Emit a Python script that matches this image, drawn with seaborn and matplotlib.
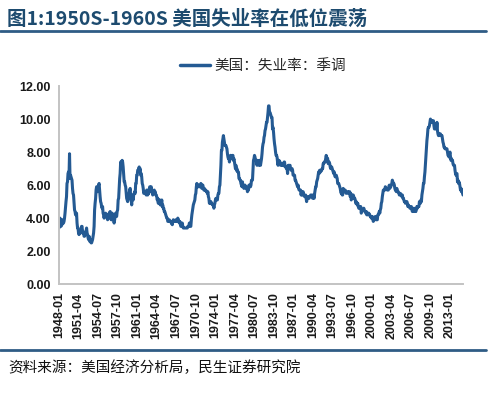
import numpy as np
import pandas as pd
import matplotlib
matplotlib.use("Agg")
import matplotlib.pyplot as plt
import seaborn as sns

# US unemployment rate, seasonally adjusted, monthly (%), one row per year 1948-2015
unrate_by_year = {
    1948: [3.4, 3.8, 4.0, 3.9, 3.5, 3.6, 3.6, 3.9, 3.8, 3.7, 3.8, 4.0],
    1949: [4.3, 4.7, 5.0, 5.3, 6.1, 6.2, 6.7, 6.8, 6.6, 7.9, 6.4, 6.6],
    1950: [6.5, 6.4, 6.3, 5.8, 5.5, 5.4, 5.0, 4.5, 4.4, 4.2, 4.2, 4.3],
    1951: [3.7, 3.4, 3.4, 3.1, 3.0, 3.2, 3.1, 3.1, 3.3, 3.5, 3.5, 3.1],
    1952: [3.2, 3.1, 2.9, 2.9, 3.0, 3.0, 3.2, 3.4, 3.1, 3.0, 2.8, 2.7],
    1953: [2.9, 2.6, 2.6, 2.7, 2.5, 2.5, 2.6, 2.7, 2.9, 3.1, 3.5, 4.5],
    1954: [4.9, 5.2, 5.7, 5.9, 5.9, 5.6, 5.8, 6.0, 6.1, 5.7, 5.3, 5.0],
    1955: [4.9, 4.7, 4.6, 4.7, 4.3, 4.2, 4.0, 4.2, 4.1, 4.3, 4.2, 4.2],
    1956: [4.0, 3.9, 4.2, 4.0, 4.3, 4.3, 4.4, 4.1, 3.9, 3.9, 4.3, 4.2],
    1957: [4.2, 3.9, 3.7, 3.9, 4.1, 4.3, 4.2, 4.1, 4.4, 4.5, 5.1, 5.2],
    1958: [5.8, 6.4, 6.7, 7.4, 7.4, 7.3, 7.5, 7.4, 7.1, 6.7, 6.2, 6.2],
    1959: [6.0, 5.9, 5.6, 5.2, 5.1, 5.0, 5.1, 5.2, 5.5, 5.7, 5.8, 5.3],
    1960: [5.2, 4.8, 5.4, 5.2, 5.1, 5.4, 5.5, 5.6, 5.5, 6.1, 6.1, 6.6],
    1961: [6.6, 6.9, 6.9, 7.0, 7.1, 6.9, 7.0, 6.6, 6.7, 6.5, 6.1, 6.0],
    1962: [5.8, 5.5, 5.6, 5.6, 5.5, 5.5, 5.4, 5.7, 5.6, 5.4, 5.7, 5.5],
    1963: [5.7, 5.9, 5.7, 5.7, 5.9, 5.6, 5.6, 5.4, 5.5, 5.5, 5.7, 5.5],
    1964: [5.6, 5.4, 5.4, 5.3, 5.1, 5.2, 4.9, 5.0, 5.1, 5.1, 4.8, 5.0],
    1965: [4.9, 5.1, 4.7, 4.8, 4.6, 4.6, 4.4, 4.4, 4.3, 4.2, 4.1, 4.0],
    1966: [4.0, 3.8, 3.8, 3.8, 3.9, 3.8, 3.8, 3.8, 3.7, 3.7, 3.6, 3.8],
    1967: [3.9, 3.8, 3.8, 3.8, 3.8, 3.9, 3.8, 3.8, 3.8, 4.0, 3.9, 3.8],
    1968: [3.7, 3.8, 3.7, 3.5, 3.5, 3.7, 3.7, 3.5, 3.4, 3.4, 3.4, 3.4],
    1969: [3.4, 3.4, 3.4, 3.4, 3.4, 3.5, 3.5, 3.5, 3.7, 3.7, 3.5, 3.5],
    1970: [3.9, 4.2, 4.4, 4.6, 4.8, 4.9, 5.0, 5.1, 5.4, 5.5, 5.9, 6.1],
    1971: [5.9, 5.9, 6.0, 5.9, 5.9, 5.9, 6.0, 6.1, 6.0, 5.8, 6.0, 6.0],
    1972: [5.8, 5.7, 5.8, 5.7, 5.7, 5.7, 5.6, 5.6, 5.5, 5.6, 5.3, 5.2],
    1973: [4.9, 5.0, 4.9, 5.0, 4.9, 4.9, 4.8, 4.8, 4.8, 4.6, 4.8, 4.9],
    1974: [5.1, 5.2, 5.1, 5.1, 5.1, 5.4, 5.5, 5.5, 5.9, 6.0, 6.6, 7.2],
    1975: [8.1, 8.1, 8.6, 8.8, 9.0, 8.8, 8.6, 8.4, 8.4, 8.4, 8.3, 8.2],
    1976: [7.9, 7.7, 7.6, 7.7, 7.4, 7.6, 7.8, 7.8, 7.6, 7.7, 7.8, 7.8],
    1977: [7.5, 7.6, 7.4, 7.2, 7.0, 7.2, 6.9, 7.0, 6.8, 6.8, 6.8, 6.4],
    1978: [6.4, 6.3, 6.3, 6.1, 6.0, 5.9, 6.2, 5.9, 6.0, 5.8, 5.9, 6.0],
    1979: [5.9, 5.9, 5.8, 5.8, 5.6, 5.7, 5.7, 6.0, 5.9, 6.0, 5.9, 6.0],
    1980: [6.3, 6.3, 6.3, 6.9, 7.5, 7.6, 7.8, 7.7, 7.5, 7.5, 7.5, 7.2],
    1981: [7.5, 7.4, 7.4, 7.2, 7.5, 7.5, 7.2, 7.4, 7.6, 7.9, 8.3, 8.5],
    1982: [8.6, 8.9, 9.0, 9.3, 9.4, 9.6, 9.8, 9.8, 10.1, 10.4, 10.8, 10.8],
    1983: [10.4, 10.4, 10.3, 10.2, 10.1, 10.1, 9.4, 9.5, 9.2, 8.8, 8.5, 8.3],
    1984: [8.0, 7.8, 7.8, 7.7, 7.4, 7.2, 7.5, 7.5, 7.3, 7.4, 7.2, 7.3],
    1985: [7.3, 7.2, 7.2, 7.3, 7.2, 7.4, 7.4, 7.1, 7.1, 7.1, 7.0, 7.0],
    1986: [6.7, 7.2, 7.2, 7.1, 7.2, 7.2, 7.0, 6.9, 7.0, 7.0, 6.9, 6.6],
    1987: [6.6, 6.6, 6.6, 6.3, 6.3, 6.2, 6.1, 6.0, 5.9, 6.0, 5.8, 5.7],
    1988: [5.7, 5.7, 5.7, 5.4, 5.6, 5.4, 5.4, 5.6, 5.4, 5.4, 5.3, 5.3],
    1989: [5.4, 5.2, 5.0, 5.2, 5.2, 5.3, 5.2, 5.2, 5.3, 5.3, 5.4, 5.4],
    1990: [5.4, 5.3, 5.2, 5.4, 5.4, 5.2, 5.5, 5.7, 5.9, 5.9, 6.2, 6.3],
    1991: [6.4, 6.6, 6.8, 6.7, 6.9, 6.9, 6.8, 6.9, 6.9, 7.0, 7.0, 7.3],
    1992: [7.3, 7.4, 7.4, 7.4, 7.6, 7.8, 7.7, 7.6, 7.6, 7.3, 7.4, 7.4],
    1993: [7.3, 7.1, 7.0, 7.1, 7.1, 7.0, 6.9, 6.8, 6.7, 6.8, 6.6, 6.5],
    1994: [6.6, 6.6, 6.5, 6.4, 6.1, 6.1, 6.1, 6.0, 5.9, 5.8, 5.6, 5.5],
    1995: [5.6, 5.4, 5.4, 5.8, 5.6, 5.6, 5.7, 5.7, 5.6, 5.5, 5.6, 5.6],
    1996: [5.6, 5.5, 5.5, 5.6, 5.6, 5.3, 5.5, 5.1, 5.2, 5.2, 5.4, 5.4],
    1997: [5.3, 5.2, 5.2, 5.1, 4.9, 5.0, 4.9, 4.8, 4.9, 4.7, 4.6, 4.7],
    1998: [4.6, 4.6, 4.7, 4.3, 4.4, 4.5, 4.5, 4.5, 4.6, 4.5, 4.4, 4.4],
    1999: [4.3, 4.4, 4.2, 4.3, 4.2, 4.3, 4.3, 4.2, 4.2, 4.1, 4.1, 4.0],
    2000: [4.0, 4.1, 4.0, 3.8, 4.0, 4.0, 4.0, 4.1, 3.9, 3.9, 3.9, 3.9],
    2001: [4.2, 4.2, 4.3, 4.4, 4.3, 4.5, 4.6, 4.9, 5.0, 5.3, 5.5, 5.7],
    2002: [5.7, 5.7, 5.7, 5.9, 5.8, 5.8, 5.8, 5.7, 5.7, 5.7, 5.9, 6.0],
    2003: [5.8, 5.9, 5.9, 6.0, 6.1, 6.3, 6.2, 6.1, 6.1, 6.0, 5.8, 5.7],
    2004: [5.7, 5.6, 5.8, 5.6, 5.6, 5.6, 5.5, 5.4, 5.4, 5.5, 5.4, 5.4],
    2005: [5.3, 5.4, 5.2, 5.2, 5.1, 5.0, 5.0, 4.9, 5.0, 5.0, 5.0, 4.9],
    2006: [4.7, 4.8, 4.7, 4.7, 4.6, 4.6, 4.7, 4.7, 4.5, 4.4, 4.5, 4.4],
    2007: [4.6, 4.5, 4.4, 4.5, 4.4, 4.6, 4.7, 4.6, 4.7, 4.7, 4.7, 5.0],
    2008: [5.0, 4.9, 5.1, 5.0, 5.4, 5.6, 5.8, 6.1, 6.1, 6.5, 6.8, 7.3],
    2009: [7.8, 8.3, 8.7, 9.0, 9.4, 9.5, 9.5, 9.6, 9.8, 10.0, 9.9, 9.9],
    2010: [9.8, 9.8, 9.9, 9.9, 9.6, 9.4, 9.4, 9.5, 9.5, 9.4, 9.8, 9.3],
    2011: [9.1, 9.0, 9.0, 9.1, 9.0, 9.1, 9.0, 9.0, 9.0, 8.8, 8.6, 8.5],
    2012: [8.3, 8.3, 8.2, 8.2, 8.2, 8.2, 8.2, 8.0, 7.8, 7.8, 7.7, 7.9],
    2013: [8.0, 7.7, 7.5, 7.6, 7.5, 7.5, 7.3, 7.2, 7.2, 7.2, 6.9, 6.7],
    2014: [6.6, 6.7, 6.7, 6.2, 6.3, 6.1, 6.2, 6.1, 5.9, 5.7, 5.8, 5.6],
    2015: [5.7, 5.5, 5.4],
}

tick_labels = ["1948-01", "1951-04", "1954-07", "1957-10", "1961-01", "1964-04",
               "1967-07", "1970-10", "1974-01", "1977-04", "1980-07", "1983-10",
               "1987-01", "1990-04", "1993-07", "1996-10", "2000-01", "2003-04",
               "2006-07", "2009-10", "2013-01"]
y_ticks = [0, 2, 4, 6, 8, 10, 12]

series_name = "美国：失业率：季调"
title_text = "图1:1950S-1960S 美国失业率在低位震荡"
source_text = "资料来源：美国经济分析局，民生证券研究院"

# ---- build table ----
dates, values = [], []
for yr, vals in unrate_by_year.items():
    for m, v in enumerate(vals, start=1):
        dates.append(pd.Timestamp(year=yr, month=m, day=1))
        values.append(v)
df = pd.DataFrame({"date": dates, "rate": values})

sns.set_theme(style="white")
plt.rcParams["font.family"] = ["Noto Sans CJK SC", "DejaVu Sans"]

LINE = "#245a93"
TITLE = "#1d4b6f"
RULE = "#2f5c85"

fig = plt.figure(figsize=(5.0, 3.93), dpi=100)
ax = fig.add_axes([0.118, 0.277, 0.808, 0.504])

sns.lineplot(data=df, x="date", y="rate", ax=ax, color=LINE, linewidth=2.2)

ax.set_ylim(0, 12)
ax.set_xlim(df["date"].iloc[0], df["date"].iloc[-1])
ax.set_yticks(y_ticks)
ax.set_yticklabels([f"{t:.2f}" for t in y_ticks])
tick_dates = [pd.Timestamp(s + "-01") for s in tick_labels]
ax.set_xticks(tick_dates)
ax.set_xticklabels(tick_labels, rotation=90)
ax.set_xlabel("")
ax.set_ylabel("")

for sp in ["top", "right"]:
    ax.spines[sp].set_visible(False)
for sp in ["left", "bottom"]:
    ax.spines[sp].set_color("#c3c3c3")
    ax.spines[sp].set_linewidth(1.4)

ax.tick_params(axis="both", which="major", direction="out", length=4,
               width=1.0, color="#b0b0b0", labelcolor="#1a1a1a", pad=2)
for lab in ax.get_yticklabels() + ax.get_xticklabels():
    lab.set_family(["Liberation Sans", "DejaVu Sans"])
    lab.set_fontsize(9)
    lab.set_fontweight("semibold")

# legend
handle = plt.Line2D([], [], color=LINE, linewidth=2.5)
leg = fig.legend([handle], [series_name], loc="center",
                 bbox_to_anchor=(0.526, 0.832), frameon=False,
                 fontsize=10.5, handlelength=2.0, handletextpad=0.3)

# title and rules
fig.text(0.014, 0.952, title_text, fontsize=14, color=TITLE,
         fontweight="bold", ha="left", va="center")
fig.add_artist(plt.Line2D([0.0, 0.972], [0.921, 0.921], transform=fig.transFigure,
                          color=RULE, linewidth=2.0))
fig.add_artist(plt.Line2D([0.0, 0.972], [0.109, 0.109], transform=fig.transFigure,
                          color=RULE, linewidth=2.0))
fig.text(0.016, 0.064, source_text, fontsize=10.5, color="#111111",
         ha="left", va="center")

fig.savefig("out.png", dpi=100)
